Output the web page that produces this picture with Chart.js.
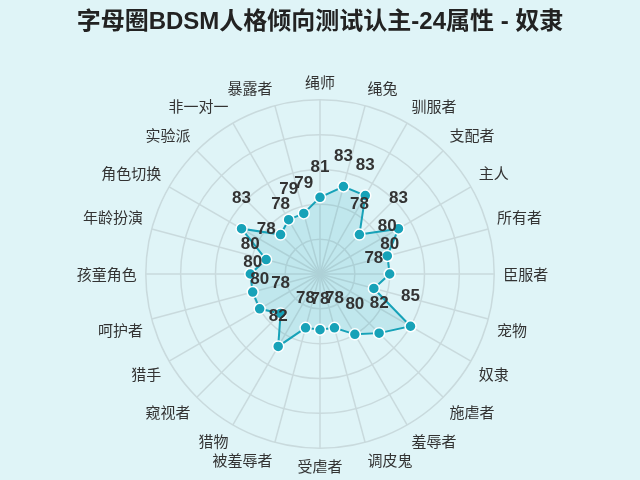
<!DOCTYPE html>
<html>
<head>
<meta charset="utf-8">
<script src="https://cdn.jsdelivr.net/npm/chart.js@4/dist/chart.umd.min.js"></script>
<style>
  html, body { margin: 0; padding: 0; background: #dff4f7; }
  #wrap { width: 640px; height: 480px; }
</style>
</head>
<body>
<div id="wrap"><canvas id="radar"></canvas></div>
<script>
// 24 attributes, clockwise from the top
const attributes = ['绳师', '绳兔', '驯服者', '支配者', '主人', '所有者', '臣服者', '宠物',
    '奴隶', '施虐者', '羞辱者', '调皮鬼', '受虐者', '被羞辱者', '猎物', '窥视者',
    '猎手', '呵护者', '孩童角色', '年龄扮演', '角色切换', '实验派', '非一对一', '暴露者'];
const scores = [81, 83, 83, 78, 83, 80, 80, 78, 85, 82, 80, 78, 78, 78, 82, 78,
    80, 80, 80, 78, 83, 78, 79, 79];
const scaleTicks = [70, 75, 80, 85, 90, 95];

const teal = '#17a2b8';
const fontFamily = '"Noto Sans CJK SC", "Noto Sans", sans-serif';

// Draw the score above each point
const valueLabels = {
    id: 'valueLabels',
    afterDatasetsDraw(chart) {
        const ctx = chart.ctx;
        const meta = chart.getDatasetMeta(0);
        ctx.save();
        ctx.font = 'bold 17px "Liberation Sans", "Noto Sans", sans-serif';
        ctx.fillStyle = '#333';
        ctx.textAlign = 'center';
        ctx.textBaseline = 'middle';
        meta.data.forEach((pt, i) => {
            ctx.fillText(String(scores[i]), pt.x, pt.y - 30);
        });
        ctx.restore();
    }
};

// Background fill for the whole canvas
const canvasBg = {
    id: 'canvasBg',
    beforeDraw(chart) {
        const ctx = chart.ctx;
        ctx.save();
        ctx.fillStyle = '#dff4f7';
        ctx.fillRect(0, 0, chart.width, chart.height);
        ctx.restore();
    }
};

new Chart(document.getElementById('radar'), {
    type: 'radar',
    data: {
        labels: attributes,
        datasets: [{
            label: '奴隶',
            data: scores,
            borderColor: teal,
            borderWidth: 2,
            backgroundColor: 'rgba(23, 162, 184, 0.15)',
            fill: true,
            pointBackgroundColor: teal,
            pointBorderColor: '#ffffff',
            pointBorderWidth: 1.5,
            pointRadius: 5.5,
            pointHoverRadius: 5.5
        }]
    },
    options: {
        responsive: true,
        maintainAspectRatio: false,
        animation: false,
        layout: { padding: { top: 0, bottom: 4, left: 0, right: 0 } },
        plugins: {
            legend: { display: false },
            tooltip: { enabled: false },
            title: {
                display: true,
                text: '字母圈BDSM人格倾向测试认主-24属性 - 奴隶',
                color: '#222',
                font: { family: '"Liberation Sans", "Noto Sans CJK SC", sans-serif', size: 24, weight: 'bold' },
                padding: { top: 8, bottom: 36 }
            }
        },
        scales: {
            r: {
                min: scaleTicks[0],
                max: scaleTicks[scaleTicks.length - 1],
                ticks: { stepSize: 5, display: false },
                grid: { circular: true, color: '#c9dadd', lineWidth: 1.5 },
                angleLines: { color: '#c9dadd', lineWidth: 1.5 },
                pointLabels: {
                    color: '#333',
                    padding: 9,
                    font: { family: fontFamily, size: 15 }
                }
            }
        }
    },
    plugins: [canvasBg, valueLabels]
});
</script>
</body>
</html>
